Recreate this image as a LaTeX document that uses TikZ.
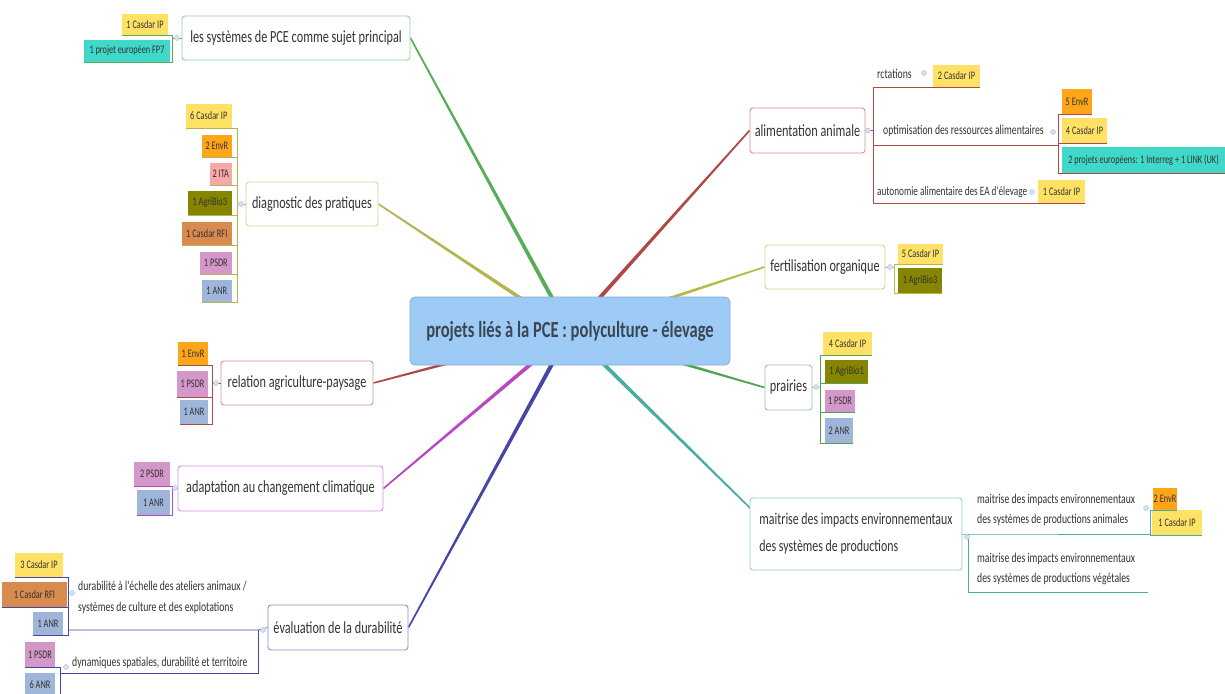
\documentclass[tikz,border=0pt]{standalone}
\usepackage{fontspec}
\newfontfamily\cf[FakeStretch=0.72]{Carlito}
\usetikzlibrary{calc,backgrounds}
\definecolor{txt}{HTML}{333333}
\definecolor{ye}{HTML}{FFE265}
\definecolor{te}{HTML}{40D9C9}
\definecolor{or}{HTML}{FFA51A}
\definecolor{pk}{HTML}{F7A8A8}
\definecolor{ol}{HTML}{858500}
\definecolor{br}{HTML}{D98A4E}
\definecolor{ma}{HTML}{D497C9}
\definecolor{bl}{HTML}{9FB5DA}
\definecolor{lgreen}{HTML}{58AE58}
\definecolor{lolive}{HTML}{B4B450}
\definecolor{lred}{HTML}{B04848}
\definecolor{lyg}{HTML}{B4BC44}
\definecolor{lgreen2}{HTML}{52A452}
\definecolor{lteal}{HTML}{48AEA2}
\definecolor{lblue}{HTML}{4646A6}
\definecolor{lmag}{HTML}{B848C0}
\definecolor{dotc}{HTML}{D2E2F4}
\definecolor{dotd}{HTML}{A8C4E4}
\definecolor{cfill}{HTML}{9ECBF5}
\definecolor{cdraw}{HTML}{86ACDA}
\definecolor{ctext}{HTML}{3A4654}
\tikzset{
  box/.style={draw=#1!60, rounded corners=3pt, fill=white, line width=0.9pt,
    font=\cf\fontsize{17}{27}\selectfont, text=txt, inner sep=0pt, align=center},
  tg/.style={fill=#1, font=\cf\fontsize{11.5}{12}\selectfont, text=txt, inner sep=0pt},
  sub/.style={font=\cf\fontsize{13.5}{20.5}\selectfont, text=txt, inner sep=0pt, align=left},
  dot/.style={circle, fill=dotc, draw=dotd, line width=0.4pt, minimum size=5pt, inner sep=0pt},
  ln/.style={draw=#1, line width=0.6pt},
  centre/.style={fill=cfill, draw=cdraw, line width=0.8pt, rounded corners=5pt,
    font=\cf\bfseries\fontsize{23}{25}\selectfont, text=ctext, inner sep=0pt},
}
\newcommand\branch[3]{\fill[#1] ($(#2)!2.2pt!90:(#3)$) -- ($(#3)!0.8pt!-90:(#2)$) -- ($(#3)!0.8pt!90:(#2)$) -- ($(#2)!2.2pt!-90:(#3)$) -- cycle;}
\begin{document}
\begin{tikzpicture}[x=1pt,y=-1pt]
\useasboundingbox (0,0) rectangle (1225,693);

% centre
\node[centre, minimum width=320pt, minimum height=68pt] (c) at (570,331) {projets liés à la PCE : polyculture - élevage};

% main boxes
\node[box=lgreen, minimum width=228pt, minimum height=44pt] (sys) at (296,38) {les systèmes de PCE comme sujet principal};
\node[box=lolive, minimum width=132pt, minimum height=44pt] (diag) at (312,204) {diagnostic des pratiques};
\node[box=lred, minimum width=152pt, minimum height=44pt] (rel) at (297,383) {relation agriculture-paysage};
\node[box=lmag, minimum width=205pt, minimum height=45pt] (adapt) at (280.5,488.5) {adaptation au changement climatique};
\node[box=lblue, minimum width=140pt, minimum height=45pt] (eval) at (338,627.5) {évaluation de la durabilité};
\node[box=lred, minimum width=115pt, minimum height=45pt] (alim) at (807.5,130.5) {alimentation animale};
\node[box=lyg, minimum width=120pt, minimum height=44pt] (fert) at (825,267) {fertilisation organique};
\node[box=lgreen2, minimum width=47pt, minimum height=45pt] (prai) at (788.5,387.5) {prairies};
\node[box=lteal, minimum width=212pt, minimum height=72pt, align=left, font=\cf\fontsize{16.5}{27}\selectfont] (mait) at (856,534) {maitrise des impacts environnementaux\\des systèmes de productions};
\coordinate (mt) at (750,508);

% background and branches
\begin{scope}[on background layer]
\fill[white] (0,0) rectangle (1225,693);
\branch{lgreen}{c.center}{sys.east}
\branch{lolive}{c.center}{diag.east}
\branch{lred}{c.center}{rel.east}
\branch{lmag}{c.center}{adapt.east}
\branch{lblue}{c.center}{eval.east}
\branch{lred}{c.center}{alim.west}
\branch{lyg}{c.center}{fert.west}
\branch{lgreen2}{c.center}{prai.west}
\branch{lteal}{c.center}{mt}
\end{scope}

% ---- les systemes de PCE
\node[tg=ye, minimum width=46pt, minimum height=21pt] (s1) at (145,24.5) {1 Casdar IP};
\node[tg=te, minimum width=86pt, minimum height=22pt] (s2) at (127,51) {1 projet européen FP7};
\coordinate (sJ) at (172,38);
\draw[ln=lgreen] (sys.west) -- (sJ);
\foreach \t in {s1,s2} \draw[ln=lgreen] (\t.south west) -- (\t.south east) -| (sJ);
\node[dot] (sd) at (177,38) {};

% ---- diagnostic
\node[tg=ye, minimum width=46pt, minimum height=25pt, anchor=east] (d1) at (232,116) {6 Casdar IP};
\node[tg=or, minimum width=30pt, minimum height=23pt, anchor=east] (d2) at (232,146) {2 EnvR};
\node[tg=pk, minimum width=22pt, minimum height=23pt, anchor=east] (d3) at (232,174) {2 ITA};
\node[tg=ol, minimum width=44pt, minimum height=24pt, anchor=east] (d4) at (232,203) {1 AgriBio3};
\node[tg=br, minimum width=50pt, minimum height=23pt, anchor=east] (d5) at (232,233.5) {1 Casdar RFI};
\node[tg=ma, minimum width=32pt, minimum height=23pt, anchor=east] (d6) at (232,263) {1 PSDR};
\node[tg=bl, minimum width=30pt, minimum height=23pt, anchor=east] (d7) at (232,291) {1 ANR};
\coordinate (dJ) at (237,204);
\draw[ln=lolive] (diag.west) -- (dJ);
\foreach \t in {d1,d2,d3,d4,d5,d6,d7} \draw[ln=lolive] (\t.south west) -- (\t.south east) -| (dJ);
\node[dot] (dd) at (241,204) {};

% ---- relation
\node[tg=or, minimum width=30pt, minimum height=23pt] (r1) at (193,353.5) {1 EnvR};
\node[tg=ma, minimum width=31pt, minimum height=26pt] (r2) at (192.5,384) {1 PSDR};
\node[tg=bl, minimum width=28pt, minimum height=24pt] (r3) at (194,412) {1 ANR};
\coordinate (rJ) at (212,383);
\draw[ln=lred] (rel.west) -- (rJ);
\foreach \t in {r1,r2,r3} \draw[ln=lred] (\t.south west) -- (\t.south east) -| (rJ);
\node[dot] (rd) at (216,383) {};

% ---- adaptation
\node[tg=ma, minimum width=36pt, minimum height=24pt] (a1) at (152,474) {2 PSDR};
\node[tg=bl, minimum width=33pt, minimum height=25pt] (a2) at (153.5,502.5) {1 ANR};
\coordinate (aJ) at (172,488);
\draw[ln=lmag] (adapt.west) -- (aJ);
\foreach \t in {a1,a2} \draw[ln=lmag] (\t.south west) -- (\t.south east) -| (aJ);
\node[dot] (ad) at (175,488) {};

% ---- evaluation
\coordinate (eJ) at (258,630);
\coordinate (e1J) at (68,630);
\coordinate (e2J) at (60,673);
\draw[ln=lblue] (eval.west) -- (eJ) -- (e1J);
\draw[ln=lblue] (eJ) |- (e2J);
\node[sub, anchor=west] (es1) at (78,597.5) {durabilité à l'échelle des ateliers animaux /\\systèmes de culture et des explotations};
\node[sub, anchor=west] (es2) at (72,663) {dynamiques spatiales, durabilité et territoire};
\node[tg=ye, minimum width=48pt, minimum height=24pt] (e1) at (39,565) {3 Casdar IP};
\node[tg=br, minimum width=65pt, minimum height=25pt] (e2) at (34.5,594.5) {1 Casdar RFI};
\node[tg=bl, minimum width=30pt, minimum height=23pt] (e3) at (48,623.5) {1 ANR};
\foreach \t in {e1,e2,e3} \draw[ln=lblue] (\t.south west) -- (\t.south east) -| (e1J);
\node[tg=ma, minimum width=30pt, minimum height=25pt] (e4) at (40,654.5) {1 PSDR};
\node[tg=bl, minimum width=30pt, minimum height=24pt] (e5) at (40,685) {6 ANR};
\foreach \t in {e4,e5} \draw[ln=lblue] (\t.south west) -- (\t.south east) -| (e2J);
\node[dot] (ed) at (263,630) {};
\node[dot] (ed1) at (72,593) {};
\node[dot] (ed2) at (66,667) {};

% ---- alimentation animale
\coordinate (lJ) at (873,130.5);
\draw[ln=lred] (alim.east) -- (lJ);
\node[sub, anchor=west] (l1) at (877,74) {rctations};
\node[sub, anchor=west] (l2) at (883,131) {optimisation des ressources alimentaires};
\node[sub, anchor=west, font=\cf\fontsize{12.8}{15}\selectfont] (l3) at (877,192) {autonomie alimentaire des EA d'élevage};
\node[tg=ye, minimum width=47pt, minimum height=22pt] (lt1) at (956.5,76) {2 Casdar IP};
\node[tg=or, minimum width=30pt, minimum height=25pt] (lt2) at (1077,101.5) {5 EnvR};
\node[tg=ye, minimum width=45pt, minimum height=25pt] (lt3) at (1084.5,130.5) {4 Casdar IP};
\node[tg=te, minimum width=163pt, minimum height=26pt] (lt4) at (1143.5,160) {2 projets européens: 1 Interreg + 1 LINK (UK)};
\node[tg=ye, minimum width=47pt, minimum height=23pt] (lt5) at (1061.5,191.5) {1 Casdar IP};
\coordinate (lJo) at (1058,145);
\draw[ln=lred] (lJ) |- (lt1.south east);
\draw[ln=lred] (lJ) |- (lJo);
\draw[ln=lred] (lJ) |- (lt5.south east);
\foreach \t in {lt2,lt3,lt4} \draw[ln=lred] (\t.south east) -- (\t.south west) -| (lJo);
\node[dot] (ld) at (868,130.5) {};
\node[dot] (ld1) at (924,73) {};
\node[dot] (ld2) at (1053,132) {};
\node[dot] (ld3) at (1032,192) {};

% ---- fertilisation
\node[tg=ye, minimum width=45pt, minimum height=20pt] (f1) at (920.5,254) {5 Casdar IP};
\node[tg=ol, minimum width=44pt, minimum height=25pt] (f2) at (920,280.5) {1 AgriBio3};
\coordinate (fJ) at (894,267);
\draw[ln=lyg] (fert.east) -- (fJ);
\foreach \t in {f1,f2} \draw[ln=lyg] (\t.south east) -- (\t.south west) -| (fJ);
\node[dot] (fd) at (890,267) {};

% ---- prairies
\node[tg=ye, minimum width=49pt, minimum height=23pt] (p1) at (847.5,343.5) {4 Casdar IP};
\node[tg=ol, minimum width=43pt, minimum height=23pt] (p2) at (846.5,371.5) {1 AgriBio1};
\node[tg=ma, minimum width=30pt, minimum height=22pt] (p3) at (840,401) {1 PSDR};
\node[tg=bl, minimum width=28pt, minimum height=25pt] (p4) at (839,430.5) {2 ANR};
\coordinate (pJ) at (820,387);
\draw[ln=lgreen2] (prai.east) -- (pJ);
\foreach \t in {p1,p2,p3,p4} \draw[ln=lgreen2] (\t.south east) -- (\t.south west) -| (pJ);
\node[dot] (pd) at (816,387) {};

% ---- maitrise
\coordinate (mJ) at (968,534);
\coordinate (m1J) at (1150,534);
\coordinate (m2J) at (1148,592);
\draw[ln=lteal] (mait.east) -- (mJ) -- (m1J);
\draw[ln=lteal] (mJ) |- (m2J);
\node[sub, anchor=west] (ms1) at (977,510) {maitrise des impacts environnementaux\\des systèmes de productions animales};
\node[sub, anchor=west] (ms2) at (977,569) {maitrise des impacts environnementaux\\des systèmes de productions végétales};
\node[tg=or, minimum width=24pt, minimum height=22pt] (mt1) at (1165,499) {2 EnvR};
\node[tg=ye, minimum width=50pt, minimum height=25pt] (mt2) at (1177,522.5) {1 Casdar IP};
\foreach \t in {mt1,mt2} \draw[ln=lteal] (\t.south east) -- (\t.south west) -| (m1J);
\node[dot] (md) at (967,537) {};
\node[dot] (md1) at (1146,508) {};
\end{tikzpicture}
\end{document}
